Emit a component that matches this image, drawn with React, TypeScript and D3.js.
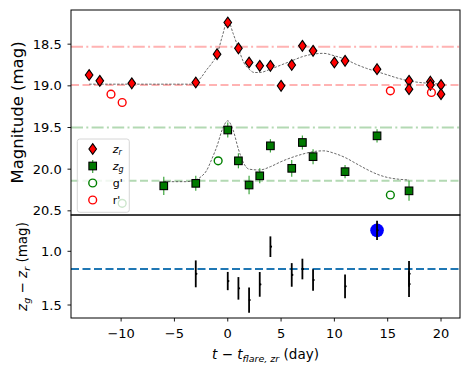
import React from 'react'
import * as d3 from 'd3'

// z_r photometry (red diamonds)
const zrT = [-13, -12, -9, -3, -1, 0, 1, 2, 3, 4, 5, 6, 7, 8, 10, 11, 14, 17, 17, 19, 19, 20, 20]
const zrMag = [18.87, 18.94, 18.97, 18.96, 18.62, 18.24, 18.55, 18.72, 18.76, 18.76, 19.0, 18.75, 18.52, 18.58, 18.72, 18.7, 18.8, 18.94, 19.04, 18.95, 18.99, 18.99, 19.1]

// z_g photometry (green squares)
const zgT = [-6, -3, 0, 1, 2, 3, 4, 6, 7, 8, 11, 14, 17]
const zgMag = [20.2, 20.17, 19.53, 19.9, 20.19, 20.08, 19.72, 19.99, 19.68, 19.85, 20.03, 19.6, 20.26]
const zgErr = [0.11, 0.09, 0.09, 0.09, 0.11, 0.09, 0.08, 0.1, 0.085, 0.09, 0.08, 0.08, 0.12]

// g' and r' (open circles)
const gpT = [-9.9, -0.9, 15.25]
const gpMag = [20.41, 19.9, 20.31]
const rpT = [-10.95, -9.9, 15.25, 19.1]
const rpMag = [19.1, 19.2, 19.06, 19.08]

// model curves
const rModelT = [-13, -9, -5, -3.5, -3, -2.5, -2, -1.5, -1, -0.5, 0, 0.5, 1, 1.5, 2, 2.5, 3, 4, 5, 6, 7, 8, 9, 10, 11, 12, 13, 14, 15, 16, 17, 18, 19, 20]
const rModelMag = [18.98, 18.98, 18.98, 18.98, 18.96, 18.9, 18.81, 18.73, 18.62, 18.4, 18.21, 18.37, 18.55, 18.72, 18.8, 18.84, 18.84, 18.8, 18.75, 18.7, 18.65, 18.62, 18.61, 18.64, 18.68, 18.74, 18.79, 18.83, 18.87, 18.91, 18.94, 18.96, 18.97, 18.98]
const gModelT = [-6, -4, -3, -2.5, -2, -1.5, -1, -0.5, 0, 0.5, 1, 1.5, 2, 3, 4, 5, 6, 7, 8, 9, 10, 11, 12, 13, 14, 15, 16, 17]
const gModelMag = [20.15, 20.15, 20.13, 20.09, 20.02, 19.88, 19.72, 19.52, 19.42, 19.53, 19.76, 19.93, 20.0, 20.01, 19.97, 19.91, 19.86, 19.82, 19.79, 19.78, 19.81, 19.86, 19.93, 20.0, 20.06, 20.1, 20.12, 20.13]

// reference levels
const rLevels = [18.53, 18.99]
const gLevels = [19.5, 20.14]

// colour z_g - z_r
const colT = [-3, 0, 1, 2, 3, 4, 6, 7, 8, 11, 14, 17, 17]
const colVal = [1.21, 1.277, 1.345, 1.454, 1.308, 0.957, 1.22, 1.165, 1.267, 1.326, 0.805, 1.21, 1.305]
const colErr = [0.125, 0.085, 0.105, 0.118, 0.115, 0.096, 0.11, 0.096, 0.1, 0.11, 0.09, 0.12, 0.12]
const colMean = 1.165
const highlightT = 14
const highlightVal = 0.805

const xTicks = [-10, -5, 0, 5, 10, 15, 20]
const magTicks = [18.5, 19.0, 19.5, 20.0, 20.5]
const colTicks = [1.0, 1.5]

const W = 468
const H = 375
const left = 71, right = 460, top = 10, mid = 215, bottom = 318
const font = 'DejaVu Sans'

const diamond = (cx: number, cy: number) =>
    `M${cx},${cy - 5.4}L${cx + 3.8},${cy}L${cx},${cy + 5.4}L${cx - 3.8},${cy}Z`

export default function App() {
    const x = d3.scaleLinear().domain([-14.7, 21.78]).range([left, right])
    const yTop = d3.scaleLinear().domain([18.09, 20.55]).range([top, mid])
    const yBot = d3.scaleLinear().domain([0.662, 1.621]).range([mid, bottom])
    const fmt = d3.format('.1f')

    const modelLine = (ts: number[], ms: number[]) =>
        d3.line<number>()
            .x((_, i) => x(ts[i]))
            .y((_, i) => yTop(ms[i]))
            .curve(d3.curveMonotoneX)(ms) || ''

    return (
        <svg width={W} height={H} style={{ position: 'absolute', left: 0, top: 0, fontFamily: font }}>
            <rect width={W} height={H} fill="white" />
            <defs>
                <clipPath id="topclip"><rect x={left} y={top} width={right - left} height={mid - top} /></clipPath>
                <clipPath id="botclip"><rect x={left} y={mid} width={right - left} height={bottom - mid} /></clipPath>
            </defs>

            {/* top panel */}
            <g clipPath="url(#topclip)">
                {rLevels.map((m, i) => (
                    <line key={'r' + i} x1={left} x2={right} y1={yTop(m)} y2={yTop(m)}
                        stroke="#ffb3b3" strokeWidth={2}
                        strokeDasharray={i === 0 ? '12,3.3,2,3.3' : '8,3.5'} />
                ))}
                {gLevels.map((m, i) => (
                    <line key={'g' + i} x1={left} x2={right} y1={yTop(m)} y2={yTop(m)}
                        stroke="#b3d9b3" strokeWidth={2}
                        strokeDasharray={i === 0 ? '12,3.3,2,3.3' : '8,3.5'} />
                ))}
                <path d={modelLine(rModelT, rModelMag)} fill="none" stroke="#444" strokeWidth={0.8} strokeDasharray="2.5,1.5" />
                <path d={modelLine(gModelT, gModelMag)} fill="none" stroke="#444" strokeWidth={0.8} strokeDasharray="2.5,1.5" />

                {zgT.map((t, i) => (
                    <line key={'ge' + i} x1={x(t)} x2={x(t)} y1={yTop(zgMag[i] - zgErr[i])} y2={yTop(zgMag[i] + zgErr[i])}
                        stroke="#3fa63f" strokeWidth={1.2} />
                ))}
                {zgT.map((t, i) => (
                    <rect key={'gs' + i} x={x(t) - 3.8} y={yTop(zgMag[i]) - 3.8} width={7.6} height={7.6}
                        fill="#007a00" stroke="black" strokeWidth={1.1} />
                ))}
                {zrT.map((t, i) => (
                    <path key={'rd' + i} d={diamond(x(t), yTop(zrMag[i]))} fill="#ff0000" stroke="black" strokeWidth={1.1} />
                ))}
                {gpT.map((t, i) => (
                    <circle key={'gp' + i} cx={x(t)} cy={yTop(gpMag[i])} r={3.9} fill="none" stroke="#008000" strokeWidth={1.4} />
                ))}
                {rpT.map((t, i) => (
                    <circle key={'rp' + i} cx={x(t)} cy={yTop(rpMag[i])} r={3.9} fill="none" stroke="#ff0000" strokeWidth={1.4} />
                ))}
            </g>

            {/* legend */}
            <g>
                <rect x={77.3} y={139} width={52} height={73.3} rx={2.5} fill="white" fillOpacity={0.8} stroke="#cccccc" strokeWidth={0.8} />
                <path d={diamond(92.7, 149)} fill="#ff0000" stroke="black" strokeWidth={1.1} />
                <line x1={92.7} x2={92.7} y1={160} y2={173} stroke="#3fa63f" strokeWidth={1.2} />
                <rect x={92.7 - 3.8} y={166 - 3.8} width={7.6} height={7.6} fill="#007a00" stroke="black" strokeWidth={1.1} />
                <circle cx={92.7} cy={183} r={3.9} fill="none" stroke="#008000" strokeWidth={1.4} />
                <circle cx={92.7} cy={200} r={3.9} fill="none" stroke="#ff0000" strokeWidth={1.4} />
                <text x={112.7} y={152.5} fontSize={11}>
                    <tspan fontStyle="italic">z</tspan><tspan fontStyle="italic" fontSize={8} dy={2}>r</tspan>
                </text>
                <text x={112.7} y={169.5} fontSize={11}>
                    <tspan fontStyle="italic">z</tspan><tspan fontStyle="italic" fontSize={8} dy={2}>g</tspan>
                </text>
                <text x={112.7} y={187} fontSize={11}>g'</text>
                <text x={112.7} y={204} fontSize={11}>r'</text>
            </g>

            {/* bottom panel */}
            <g clipPath="url(#botclip)">
                <line x1={left} x2={right} y1={yBot(colMean)} y2={yBot(colMean)} stroke="#1f77b4" strokeWidth={2} strokeDasharray="8,3.5" />
                <circle cx={x(highlightT)} cy={yBot(highlightVal)} r={6.8} fill="#0000ff" />
                {colT.map((t, i) => (
                    <g key={'c' + i}>
                        <line x1={x(t)} x2={x(t)} y1={yBot(colVal[i] - colErr[i])} y2={yBot(colVal[i] + colErr[i])}
                            stroke="black" strokeWidth={1.8} />
                        <circle cx={x(t) + 0.6} cy={yBot(colVal[i])} r={1.1} fill="black" />
                    </g>
                ))}
            </g>

            {/* frames */}
            <rect x={left} y={top} width={right - left} height={mid - top} fill="none" stroke="black" strokeWidth={1} />
            <rect x={left} y={mid} width={right - left} height={bottom - mid} fill="none" stroke="black" strokeWidth={1} />

            {/* y ticks top */}
            {magTicks.map(m => (
                <g key={'mt' + m}>
                    <line x1={left - 3.5} x2={left} y1={yTop(m)} y2={yTop(m)} stroke="black" strokeWidth={0.9} />
                    <text x={left - 9.3} y={yTop(m)} dy="0.35em" textAnchor="end" fontSize={13}>{fmt(m)}</text>
                </g>
            ))}
            {/* y ticks bottom */}
            {colTicks.map(m => (
                <g key={'ct' + m}>
                    <line x1={left - 3.5} x2={left} y1={yBot(m)} y2={yBot(m)} stroke="black" strokeWidth={0.9} />
                    <text x={left - 9.3} y={yBot(m)} dy="0.35em" textAnchor="end" fontSize={13}>{fmt(m)}</text>
                </g>
            ))}
            {/* x ticks */}
            {xTicks.map(t => (
                <g key={'xt' + t}>
                    <line x1={x(t)} x2={x(t)} y1={bottom} y2={bottom + 3.5} stroke="black" strokeWidth={0.9} />
                    <text x={x(t)} y={bottom + 20} textAnchor="middle" fontSize={13}>{d3.format('d')(t)}</text>
                </g>
            ))}

            {/* axis labels */}
            <text transform={`translate(23,${(top + mid) / 2}) rotate(-90)`} textAnchor="middle" fontSize={16.5}>Magnitude (mag)</text>
            <text transform={`translate(27,${(mid + bottom) / 2}) rotate(-90)`} textAnchor="middle" fontSize={13.5}>
                <tspan fontStyle="italic">z</tspan><tspan fontStyle="italic" fontSize={9.5} dy={3}>g</tspan>
                <tspan dy={-3}> − </tspan>
                <tspan fontStyle="italic">z</tspan><tspan fontStyle="italic" fontSize={9.5} dy={3}>r</tspan>
                <tspan dy={-3}> (mag)</tspan>
            </text>
            <text x={(left + right) / 2} y={358.5} textAnchor="middle" fontSize={13.5}>
                <tspan fontStyle="italic">t</tspan>
                <tspan> − </tspan>
                <tspan fontStyle="italic">t</tspan><tspan fontStyle="italic" fontSize={9.5} dy={3}>flare, zr</tspan>
                <tspan dy={-3}> (day)</tspan>
            </text>
        </svg>
    )
}
